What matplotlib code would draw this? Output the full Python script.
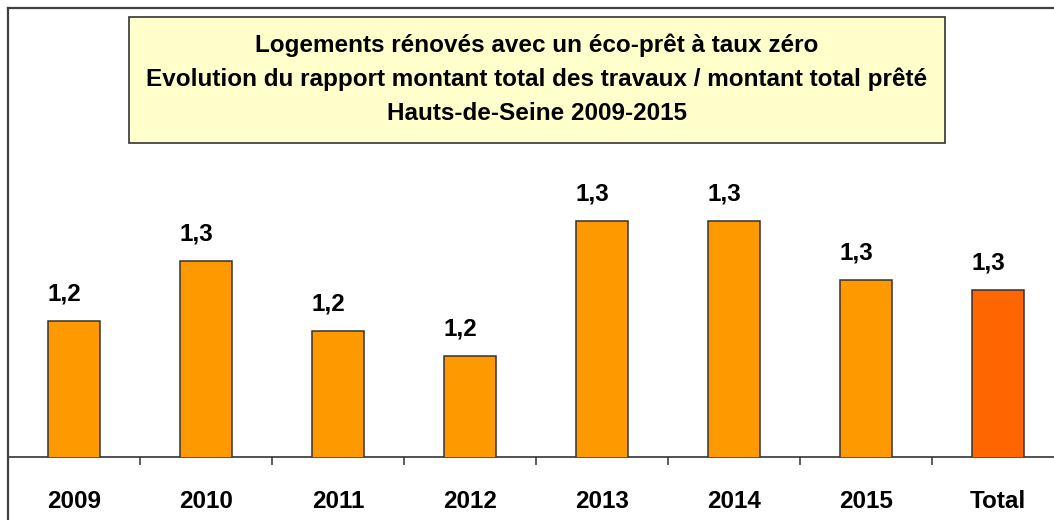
import matplotlib
matplotlib.use("Agg")
import matplotlib.pyplot as plt
from matplotlib.patches import Rectangle
from matplotlib.lines import Line2D

categories = ["2009", "2010", "2011", "2012", "2013", "2014", "2015", "Total"]
values = [1.236, 1.296, 1.226, 1.201, 1.336, 1.336, 1.277, 1.267]
labels = ["1,2", "1,3", "1,2", "1,2", "1,3", "1,3", "1,3", "1,3"]
colors = ["#FF9900"] * 7 + ["#FF6600"]
title_lines = [
    "Logements rénovés avec un éco-prêt à taux zéro",
    "Evolution du rapport montant total des travaux / montant total prêté",
    "Hauts-de-Seine 2009-2015",
]

W, H = 1054, 520
fig = plt.figure(figsize=(W / 100, H / 100), dpi=100)
plt.rcParams['font.family'] = ['Liberation Sans', 'DejaVu Sans']

def fx(px):
    return px / W

def fy(py):
    return 1 - py / H

ax_left, ax_right = 8, 8 + 8 * 132
ax_top, ax_bottom = 20, 457
ax = fig.add_axes([fx(ax_left), fy(ax_bottom), (ax_right - ax_left) / W, (ax_bottom - ax_top) / H])
ax.set_facecolor("white")

x = list(range(len(categories)))
ax.bar(x, values, width=0.4, color=colors, edgecolor="#333333", linewidth=1.1, zorder=3)
ax.set_xlim(-0.5, 7.5)
ax.set_ylim(1.1, 1.537)

for xi, v, lab in zip(x, values, labels):
    ax.annotate(lab, (xi, v), xytext=(-7, 14.5), textcoords="offset points",
                ha="center", va="baseline", fontsize=17.5, fontweight="bold", color="black")

for s in ["top", "right", "left"]:
    ax.spines[s].set_visible(False)
ax.spines["bottom"].set_color("#333333")
ax.spines["bottom"].set_linewidth(1.2)
ax.set_yticks([])
ax.set_xticks(x)
ax.set_xticklabels(categories, fontsize=17.5, fontweight="bold")
ax.tick_params(axis="x", which="major", length=0, pad=24)
ax.set_xticks([i + 0.5 for i in range(7)], minor=True)
ax.tick_params(axis="x", which="minor", length=6, width=1.1, color="#333333", direction="out")

# outer frame
fig.add_artist(Line2D([fx(8), fx(W + 5)], [fy(8), fy(8)], color="#404040", lw=1.6))
fig.add_artist(Line2D([fx(8), fx(8)], [fy(8), fy(H + 5)], color="#404040", lw=1.6))

# title box
fig.add_artist(Rectangle((fx(129), fy(143)), (945 - 129) / W, (143 - 17) / H,
                         facecolor="#FFFFCC", edgecolor="#333333", lw=1.2,
                         transform=fig.transFigure, zorder=5))
for ty, t in zip([45, 79, 114], title_lines):
    fig.text(fx(537), fy(ty), t, ha="center", va="center", fontsize=17.5,
             fontweight="bold", color="black", zorder=6)

fig.savefig("out.png", dpi=100)
